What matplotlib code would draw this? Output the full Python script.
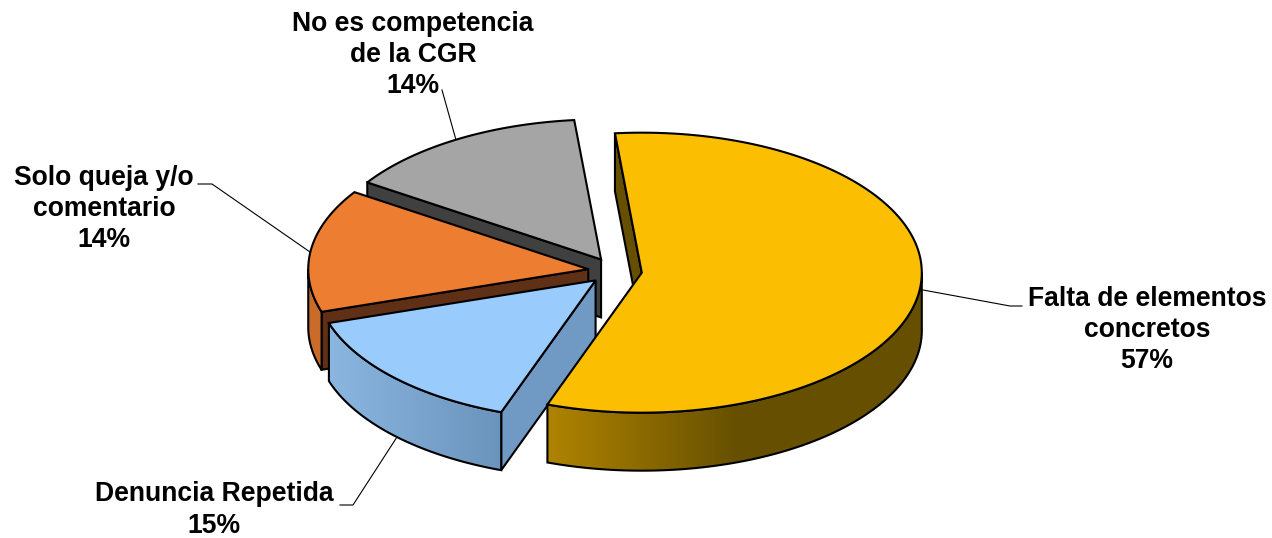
"""
    Exploded 3D-look pie, drawn by hand because matplotlib has no 3D pie
"""

import numpy as np
from matplotlib import pyplot as plt
from matplotlib.colors import LinearSegmentedColormap
from matplotlib.patches import Polygon

labels = ["Falta de elementos\nconcretos", "Denuncia Repetida",
          "Solo queja y/o\ncomentario", "No es competencia\nde la CGR"]
values = [57.0, 14.6, 14.2, 14.2]
top_colors = ["#FBBE00", "#99CBFC", "#ED7D31", "#A5A5A5"]
cut_colors = ["#665000", "#7099C4", "#5F3015", "#404040"]
wall_left = ["#B08400", "#8AB6E0", "#C96C2A", "#7C7C7C"]
wall_right = ["#665000", "#6B94BC", "#C96C2A", "#7C7C7C"]

CX, CY = 615, 271
RX, RY = 280, 140
DEPTH = 58
EXPLODE = 27
START = -5.5
EDGE = 1.5

plt.rcParams['font.family'] = ['Liberation Sans', 'DejaVu Sans']


def pt(cx, cy, t):
    # t in degrees, clockwise from the top of the ellipse
    t = np.radians(t)
    return cx + RX * np.sin(t), cy - RY * np.cos(t)


def draw_slice(ax, t0, t1, i, z):
    mid = np.radians((t0 + t1) / 2)
    ax0 = CX + EXPLODE * np.sin(mid)
    ay0 = CY - EXPLODE * 0.5 * np.cos(mid)
    ts = np.linspace(t0, t1, 200)
    xs, ys = pt(ax0, ay0, ts)

    # cut face on the starting side
    sx, sy = pt(ax0, ay0, t0)
    cut = [(sx, sy), (sx, sy + DEPTH), (ax0, ay0 + DEPTH), (ax0, ay0)]
    ax.add_patch(Polygon(cut, closed=True, fc=cut_colors[i], ec="black", lw=EDGE, zorder=z))

    # outer wall, front half of the ellipse only
    w0, w1 = max(t0, 90), min(t1, 270)
    if w1 > w0:
        wt = np.linspace(w0, w1, 200)
        wx, wy = pt(ax0, ay0, wt)
        outline = np.column_stack([np.r_[wx, wx[::-1]], np.r_[wy, wy[::-1] + DEPTH]])
        ax.add_patch(Polygon(outline, closed=True, fc="none", ec="black", lw=EDGE, zorder=z + 0.2))
        cmap = LinearSegmentedColormap.from_list("w", [wall_left[i], wall_right[i]])
        grad = np.linspace(0, 1, 256).reshape(1, -1)
        x_lo = wx.min()
        x_hi = x_lo + 190 if i == 0 else wx.max()
        img = ax.imshow(grad, cmap=cmap, aspect='auto', zorder=z + 0.1,
                        extent=[x_lo, x_hi, ay0 + RY + DEPTH + 5, ay0 - RY])
        img.set_clip_path(Polygon(outline, closed=True, transform=ax.transData))
        if i == 0:
            # flat dark part past the end of the gradient
            ax.add_patch(Polygon(outline, closed=True, fc=wall_right[i], ec="none", zorder=z + 0.05))

    face = np.column_stack([np.r_[ax0, xs], np.r_[ay0, ys]])
    ax.add_patch(Polygon(face, closed=True, fc=top_colors[i], ec="black", lw=EDGE,
                         joinstyle="miter", zorder=z + 0.5))


fig = plt.figure(figsize=(12.72, 5.38), dpi=100)
ax = fig.add_axes([0, 0, 1, 1])

angles = START + np.cumsum([0] + values) / sum(values) * 360
order = [3, 2, 1, 0]
for z, i in enumerate(order):
    draw_slice(ax, angles[i], angles[i + 1], i, z + 1)

# leader lines
ax.plot([923, 1010, 1022], [290, 306, 306], color="black", lw=0.8, zorder=10)
ax.plot([397, 353, 340], [437, 505, 505], color="black", lw=0.8, zorder=0.5)
ax.plot([310, 212, 198], [252, 184, 184], color="black", lw=0.8, zorder=0.5)
ax.plot([456, 442], [140, 90], color="black", lw=0.8, zorder=0.5)

label_pos = [(1147, 330), (214, 510), (104, 209), (413, 55)]
for lab, v, (x, y) in zip(labels, values, label_pos):
    ax.text(x, y, f"{lab}\n{v:.0f}%", ha="center", va="center", fontsize=19.1,
            fontweight="bold", linespacing=1.27, color="black", zorder=11)

ax.set_xlim(0, 1272)
ax.set_ylim(538, 0)
ax.axis("off")

plt.savefig("out.png", dpi=100)
